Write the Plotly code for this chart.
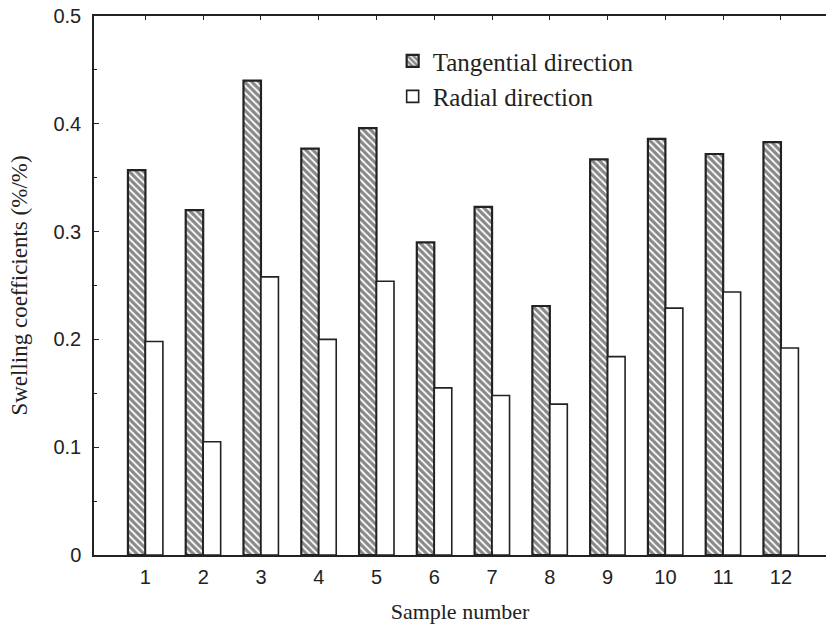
import plotly.graph_objects as go

samples = [1, 2, 3, 4, 5, 6, 7, 8, 9, 10, 11, 12]
tangential = [0.357, 0.320, 0.440, 0.377, 0.396, 0.290, 0.323, 0.231, 0.367, 0.386, 0.372, 0.383]
radial = [0.198, 0.105, 0.258, 0.200, 0.254, 0.155, 0.148, 0.140, 0.184, 0.229, 0.244, 0.192]
y_ticks = [0, 0.1, 0.2, 0.3, 0.4, 0.5]
y_ticktext = ["0", "0.1", "0.2", "0.3", "0.4", "0.5"]

ink = "#222222"

fig = go.Figure()
fig.add_trace(go.Bar(
    x=samples, y=tangential, name="Tangential direction",
    marker=dict(color="white", line=dict(color=ink, width=2.2),
                pattern=dict(shape="\\", size=5, solidity=0.65, fgcolor="#111111", bgcolor="white")),
))
fig.add_trace(go.Bar(
    x=samples, y=radial, name="Radial direction",
    marker=dict(color="white", line=dict(color=ink, width=1.6)),
))

fig.update_layout(
    width=826, height=627,
    margin=dict(l=94, r=0, t=16, b=72),
    paper_bgcolor="white", plot_bgcolor="white",
    barmode="group", bargap=0.395, bargroupgap=0,
    showlegend=True,
    legend=dict(x=0.408, y=0.959, xanchor="left", yanchor="top",
                bgcolor="rgba(0,0,0,0)", borderwidth=0,
                font=dict(family="Liberation Serif", size=25, color=ink)),
)
fig.update_xaxes(
    range=[0.11, 12.78], tickmode="array", tickvals=samples,
    ticktext=[str(s) for s in samples],
    showline=True, linecolor=ink, linewidth=1.5, mirror="ticks",
    ticks="inside", ticklen=4, tickcolor=ink, showgrid=False, zeroline=False,
    tickfont=dict(family="Liberation Sans", size=20, color=ink),
    ticklabelstandoff=3,
    title=dict(text="Sample number", font=dict(family="Liberation Serif", size=22, color=ink), standoff=17),
)
fig.update_yaxes(
    range=[0, 0.5], tickmode="array", tickvals=y_ticks, ticktext=y_ticktext,
    showline=True, linecolor=ink, linewidth=1.5, mirror=False,
    ticks="inside", ticklen=5, tickcolor=ink, showgrid=False, zeroline=False,
    minor=dict(dtick=0.05, ticks="inside", ticklen=3, tickcolor=ink),
    tickfont=dict(family="Liberation Sans", size=20, color=ink),
    ticklabelstandoff=7,
    title=dict(text="Swelling coefficients (%/%)", font=dict(family="Liberation Serif", size=23, color=ink), standoff=19),
)

fig.write_html("out.html", config={"displayModeBar": False},
               post_script="document.body.style.margin='0';")
